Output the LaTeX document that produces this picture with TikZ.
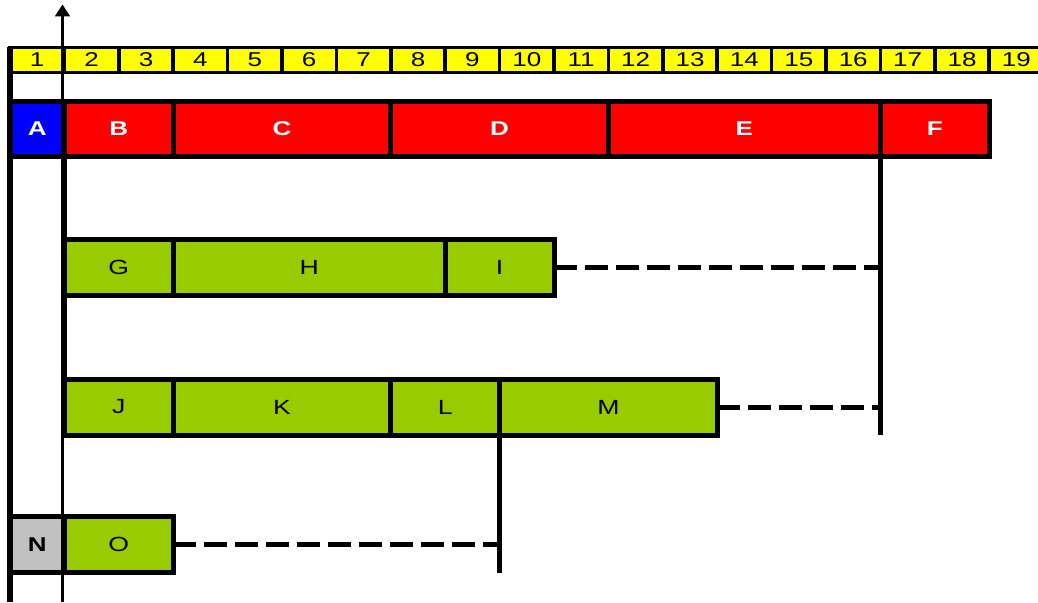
\documentclass[tikz,border=0pt]{standalone}
\usepackage{fontspec}
\setmainfont{Liberation Sans}[FakeStretch=1.3]
\usetikzlibrary{arrows.meta}
\definecolor{ybar}{HTML}{FFFF00}
\definecolor{rbox}{HTML}{FF0000}
\definecolor{bbox}{HTML}{0000FF}
\definecolor{gbox}{HTML}{99CC00}
\definecolor{nbox}{HTML}{C0C0C0}
\newcommand\mybox[6]{%
  \pgfmathsetmacro\xa{10+(#2-1)*54.4}%
  \pgfmathsetmacro\xb{10+(#3-1)*54.4}%
  \pgfmathsetmacro\xw{\xb-\xa}%
  \node[#5, minimum width=\xw pt, anchor=center] (#1) at ({(\xa+\xb)/2},#4) {#6};}
\begin{document}
\begin{tikzpicture}[x=1pt,y=-1pt,
  cellbase/.style={draw=black, line width=5pt, inner sep=0pt, outer sep=0pt,
    minimum height=56pt, font=\fontsize{20.5}{24}\selectfont},
  ycell/.style={cellbase, fill=ybar, line width=3.5pt, minimum height=25pt,
    font=\fontsize{20}{22}\selectfont},
  rcell/.style={cellbase, fill=rbox, minimum height=55pt, text=white, font=\fontsize{20}{22}\selectfont\bfseries},
  acell/.style={rcell, fill=bbox},
  gcell/.style={cellbase, fill=gbox},
  ncell/.style={cellbase, fill=nbox, font=\fontsize{20}{22}\selectfont\bfseries},
  solidlink/.style={draw=black, line width=5.5pt},
  dashlink/.style={draw=black, line width=5pt, dash pattern=on 23pt off 8pt},
  axis/.style={draw=black, line width=2.2pt, -{Triangle[width=15pt,length=12pt]}}
]
\useasboundingbox (0,0) rectangle (1038,602);
\clip (0,0) rectangle (1038,602);
\coordinate (leftbot) at (9.8,602);
\coordinate (axbot) at (62.5,602);
\coordinate (axtop) at (62.5,4.5);
% yellow scale
\foreach \k in {1,...,19}{\mybox{Y\k}{\k}{\k+1}{60}{ycell}{\k}}
% red row
\mybox{A}{1}{2}{129}{acell}{A}
\mybox{B}{2}{4}{129}{rcell}{B}
\mybox{C}{4}{8}{129}{rcell}{C}
\mybox{D}{8}{12}{129}{rcell}{D}
\mybox{E}{12}{17}{129}{rcell}{E}
\mybox{F}{17}{19}{129}{rcell}{F}
% green rows
\mybox{G}{2}{4}{267.5}{gcell}{G}
\mybox{H}{4}{9}{267.5}{gcell}{H}
\mybox{I}{9}{11}{267.5}{gcell}{I}
\mybox{J}{2}{4}{407}{gcell}{J}
\mybox{K}{4}{8}{407}{gcell}{K}
\mybox{L}{8}{10}{407}{gcell}{L}
\mybox{M}{10}{14}{407}{gcell}{M}
\mybox{N}{1}{2}{544.5}{ncell}{N}
\mybox{O}{2}{4}{544.5}{gcell}{O}
% connectors
\draw[solidlink] (Y1.north west) -- (Y1.north west |- leftbot);
\draw[solidlink] (B.south west) -- (J.north west);
\draw[solidlink] (F.south west) -- (F.south west |- M.south);
\draw[solidlink] (M.south west) -- (M.south west |- O.south);
\draw[dashlink] (I.east) -- (I.east -| F.south west);
\draw[dashlink] (M.east) -- (M.east -| F.south west);
\draw[dashlink] (O.east) -- (O.east -| M.south west);
\draw[axis] (axbot) -- (axtop);
\end{tikzpicture}
\end{document}
